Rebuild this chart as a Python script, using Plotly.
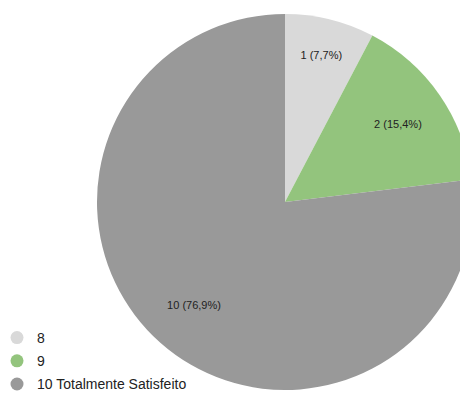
import plotly.graph_objects as go

labels = ["8", "9", "10 Totalmente Satisfeito"]
values = [1, 2, 10]
colors = ["#d9d9d9", "#93c47d", "#999999"]

W, H = 480, 400
cx, cy, r = 285, 202, 188
dom = dict(x=[(cx - r) / W, (cx + r) / W], y=[(H - cy - r) / H, (H - cy + r) / H])
font = "Liberation Sans, Arial"

fig = go.Figure()
# coloured slices
fig.add_trace(go.Pie(
    labels=labels, values=values, sort=False, direction="clockwise", rotation=0,
    marker=dict(colors=colors, line=dict(width=0)),
    textinfo="none", showlegend=False, hoverinfo="label+value+percent",
    domain=dom,
))
# transparent ring carrying the slice labels (places them further out)
fig.add_trace(go.Pie(
    labels=labels, values=values, sort=False, direction="clockwise", rotation=0,
    hole=0.46,
    marker=dict(colors=["rgba(0,0,0,0)"] * 3, line=dict(width=0)),
    texttemplate="%{value} (%{percent:.1%})", textposition="inside",
    insidetextorientation="horizontal",
    textfont=dict(family=font, size=11, color="#222222"),
    showlegend=False, hoverinfo="skip",
    domain=dom,
))
for i, (lab, col) in enumerate(zip(labels, colors)):
    fig.add_trace(go.Scatter(x=[None], y=[None], mode="markers", name=lab,
                             legendgroup=f"g{i}",
                             marker=dict(color=col, size=13, symbol="circle")))

fig.update_layout(
    width=W, height=H, margin=dict(l=0, r=0, t=0, b=0),
    paper_bgcolor="white", plot_bgcolor="white",
    separators=",.",
    xaxis=dict(visible=False), yaxis=dict(visible=False),
    legend=dict(x=0, y=0, xanchor="left", yanchor="bottom",
                font=dict(family=font, size=14, color="#222222"),
                itemwidth=30, tracegroupgap=2, indentation=-3,
                bgcolor="rgba(0,0,0,0)"),
)
fig.write_html("out.html")
